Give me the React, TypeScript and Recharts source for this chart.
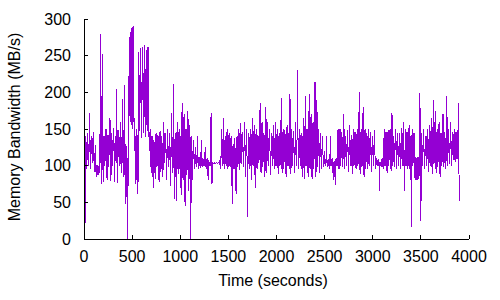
import React from 'react';
import { LineChart, Line, XAxis, YAxis } from 'recharts';

// Memory bandwidth samples (MB/s), one every 5 seconds, per 500-second block
const block0000 = [280, 150, 8, 120, 140, 98, 95, 142, 145, 100, 105, 138, 172, 96, 100, 140, 140, 104, 115, 146, 145, 98, 92, 120, 128, 90, 85, 100, 100, 88, 88, 98, 97, 90, 280, 120, 75, 150, 252, 110, 78, 140, 140, 100, 110, 148, 150, 102, 80, 136, 142, 98, 115, 140, 165, 104, 79, 138, 145, 100, 110, 142, 152, 96, 78, 140, 140, 104, 204, 110, 77, 138, 148, 100, 112, 145, 160, 98, 90, 140, 191, 105, 85, 138, 210, 100, 48, 130, 120, 90, 0, 110, 72, 160, 275, 180, 160, 270, 288, 170];
const block0500 = [150, 280, 290, 160, 165, 120, 140, 100, 75, 140, 150, 95, 62, 130, 255, 150, 148, 240, 260, 160, 138, 250, 262, 145, 150, 255, 265, 140, 140, 245, 258, 150, 148, 262, 255, 140, 120, 145, 150, 100, 90, 140, 140, 95, 70, 135, 130, 100, 82, 140, 145, 98, 100, 142, 140, 96, 78, 138, 147, 100, 92, 140, 135, 98, 85, 138, 160, 104, 105, 145, 140, 96, 80, 140, 150, 100, 98, 142, 143, 95, 72, 138, 172, 104, 90, 140, 212, 100, 55, 135, 145, 92, 52, 140, 160, 100, 88, 142, 150, 96];
const block1000 = [140, 85, 60, 150, 185, 95, 80, 145, 170, 90, 45, 140, 150, 88, 90, 155, 175, 95, 65, 140, 155, 100, 0, 130, 140, 95, 80, 135, 130, 98, 95, 125, 110, 100, 98, 118, 140, 100, 95, 112, 108, 100, 97, 115, 135, 100, 98, 110, 108, 100, 100, 112, 125, 102, 96, 108, 110, 100, 80, 106, 105, 102, 100, 108, 172, 102, 75, 104, 104, 103, 103, 104, 104, 103, 103, 104, 104, 103, 103, 104, 104, 103, 108, 100, 95, 120, 150, 100, 110, 140, 165, 98, 95, 135, 140, 102, 100, 145, 150, 96];
const block1500 = [105, 140, 145, 100, 98, 135, 140, 102, 48, 120, 130, 98, 95, 138, 120, 100, 62, 130, 140, 98, 100, 142, 150, 96, 95, 140, 158, 102, 105, 145, 145, 98, 100, 140, 160, 104, 85, 138, 150, 100, 30, 130, 145, 98, 95, 142, 150, 100, 80, 140, 165, 102, 100, 145, 155, 96, 70, 138, 150, 100, 95, 142, 140, 104, 110, 148, 185, 100, 90, 145, 160, 98, 105, 140, 145, 96, 85, 142, 180, 100, 90, 145, 160, 100, 100, 148, 150, 94, 88, 140, 145, 100, 110, 150, 155, 98, 95, 142, 160, 100];
const block2000 = [100, 142, 150, 98, 88, 140, 145, 100, 105, 145, 192, 100, 90, 140, 150, 96, 110, 148, 140, 100, 85, 138, 155, 102, 100, 145, 140, 96, 198, 104, 88, 140, 150, 100, 105, 146, 145, 98, 90, 140, 160, 100, 110, 148, 231, 100, 95, 140, 150, 104, 100, 145, 140, 96, 85, 138, 165, 100, 82, 140, 195, 100, 100, 150, 150, 95, 85, 145, 198, 100, 95, 155, 170, 98, 82, 148, 160, 96, 110, 150, 214, 100, 85, 145, 190, 98, 100, 150, 150, 92, 90, 140, 145, 100, 95, 138, 140, 100, 98, 120];
const block2500 = [112, 100, 100, 110, 140, 102, 98, 108, 108, 100, 96, 110, 140, 100, 100, 108, 110, 98, 80, 104, 105, 100, 74, 108, 110, 100, 100, 140, 150, 98, 95, 142, 150, 100, 110, 145, 145, 98, 100, 140, 170, 102, 95, 140, 140, 100, 110, 145, 148, 98, 92, 140, 155, 100, 105, 142, 140, 96, 88, 138, 150, 100, 110, 145, 145, 98, 95, 140, 150, 100, 105, 148, 200, 100, 88, 140, 150, 98, 100, 145, 180, 100, 85, 140, 150, 96, 105, 142, 145, 100, 95, 140, 150, 100, 100, 145, 145, 96, 92, 140];
const block3000 = [140, 100, 100, 145, 148, 98, 95, 110, 110, 100, 100, 108, 108, 100, 66, 105, 105, 100, 98, 108, 110, 100, 95, 130, 150, 100, 100, 145, 145, 98, 90, 140, 148, 100, 110, 145, 150, 96, 95, 142, 172, 100, 100, 140, 140, 98, 110, 148, 150, 100, 95, 140, 145, 100, 105, 145, 140, 96, 100, 142, 152, 100, 110, 148, 160, 98, 65, 120, 150, 100, 100, 145, 145, 96, 110, 150, 155, 100, 90, 140, 17, 130, 150, 100, 105, 142, 145, 98, 80, 112, 110, 95, 80, 110, 112, 96, 82, 110, 199, 100];
const block3500 = [24, 120, 145, 100, 100, 142, 150, 98, 95, 140, 140, 100, 110, 150, 148, 100, 92, 140, 155, 102, 100, 145, 165, 100, 88, 140, 189, 104, 105, 150, 175, 100, 90, 142, 150, 98, 110, 148, 160, 100, 85, 140, 145, 100, 105, 148, 170, 98, 100, 145, 145, 100, 95, 140, 195, 100, 100, 145, 150, 102, 110, 148, 160, 100, 105, 145, 145, 108, 112, 148, 150, 105, 108, 145, 145, 110, 110, 140, 185, 100, 52];

const SAMPLE_STEP = 5; // seconds between samples
const xTicks = [0, 500, 1000, 1500, 2000, 2500, 3000, 3500, 4000];
const yTicks = [0, 50, 100, 150, 200, 250, 300];

const values = [...block0000, ...block0500, ...block1000, ...block1500, ...block2000, ...block2500, ...block3000, ...block3500];
const data = values.map((v, i) => ({ t: i * SAMPLE_STEP, bw: v }));

const FONT = '"Liberation Sans", Arial, sans-serif';
const FS = 16;
const TL = 4;

const BottomTick = (props: any) => {
  const { x, y, payload } = props;
  return (
    <g>
      <line x1={x} y1={y} x2={x} y2={y - TL} stroke="#000" />
      <text x={x} y={y + 23} textAnchor="middle" fontFamily={FONT} fontSize={FS} fill="#000">{payload.value}</text>
    </g>
  );
};
const TopTick = (props: any) => {
  const { x, y } = props;
  return <line x1={x} y1={y} x2={x} y2={y + TL} stroke="#000" />;
};
const LeftTick = (props: any) => {
  const { x, y, payload } = props;
  return (
    <g>
      <line x1={x} y1={y} x2={x + TL} y2={y} stroke="#000" />
      <text x={x - 13} y={y} dy="0.36em" textAnchor="end" fontFamily={FONT} fontSize={FS} fill="#000">{payload.value}</text>
    </g>
  );
};
const RightTick = (props: any) => {
  const { x, y } = props;
  return <line x1={x} y1={y} x2={x - TL} y2={y} stroke="#000" />;
};

const XLabel = () => (
  <text x={273} y={286} textAnchor="middle" fontFamily={FONT} fontSize={FS} fill="#000">Time (seconds)</text>
);
const YLabel = () => (
  <text x={20} y={127} transform="rotate(-90 20 127)" textAnchor="middle" fontFamily={FONT} fontSize={FS} fill="#000">Memory Bandwidth (MB/s)</text>
);

export default function App() {
  return (
    <div style={{ position: 'absolute', left: 0, top: 0, width: 500, height: 300, background: '#fff' }}>
      <style>{`.recharts-wrapper svg path, .recharts-wrapper svg line { shape-rendering: crispEdges; }`}</style>
      <LineChart width={500} height={300} data={data} margin={{ top: 19, right: 31, bottom: 0, left: 0 }}>
        <XAxis dataKey="t" type="number" domain={[0, 4000]} ticks={xTicks} xAxisId="b" orientation="bottom"
          height={61} tickSize={0} tickMargin={0} tickLine={false} tick={BottomTick} axisLine={{ stroke: '#000' }}
          allowDataOverflow label={XLabel} interval={0} />
        <XAxis dataKey="t" type="number" domain={[0, 4000]} ticks={xTicks} xAxisId="t" orientation="top"
          height={0} tickSize={0} tickMargin={0} tickLine={false} tick={TopTick} axisLine={{ stroke: '#000' }} interval={0} />
        <YAxis type="number" domain={[0, 300]} ticks={yTicks} yAxisId="l" orientation="left" width={84}
          tickSize={0} tickMargin={0} tickLine={false} tick={LeftTick} axisLine={{ stroke: '#000' }} label={YLabel} interval={0} />
        <YAxis type="number" domain={[0, 300]} ticks={yTicks} yAxisId="r" orientation="right" width={0}
          tickSize={0} tickMargin={0} tickLine={false} tick={RightTick} axisLine={{ stroke: '#000' }} interval={0} />
        <Line xAxisId="b" yAxisId="l" dataKey="bw" type="linear" stroke="#9400d3" strokeWidth={1} dot={false} isAnimationActive={false} />
      </LineChart>
    </div>
  );
}
